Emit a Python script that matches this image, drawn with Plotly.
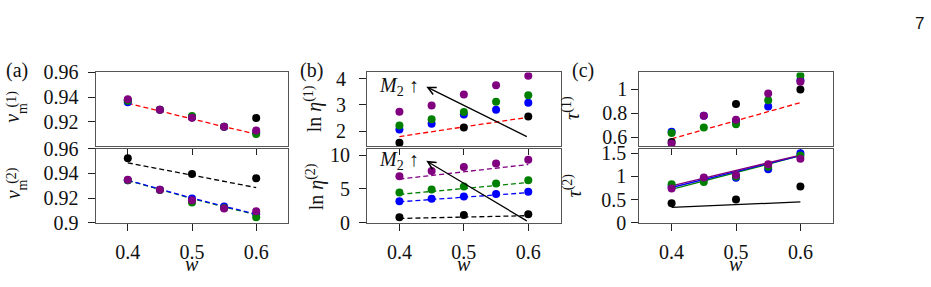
import plotly.graph_objects as go

W, H = 931, 287

# ---------------- data ----------------
w5 = [0.4, 0.45, 0.5, 0.55, 0.6]
w3 = [0.4, 0.5, 0.6]
w2 = [0.4, 0.6]

# (a) top: v_m^(1)
vm1_black = [0.9375, 0.9235, 0.923]
vm1_blue = [0.9358, 0.9298, 0.9238, 0.9160, 0.9115]
vm1_green = [0.9370, 0.9298, 0.9246, 0.9160, 0.9100]
vm1_purple = [0.9383, 0.9298, 0.9233, 0.9160, 0.9130]
vm1_fit_red = [0.935, 0.9285, 0.922, 0.916, 0.910]

# (a) bottom: v_m^(2)
vm2_black = [0.9524, 0.9396, 0.936]
vm2_blue = [0.9345, 0.9267, 0.9197, 0.9131, 0.9070]
vm2_green = [0.9345, 0.9265, 0.9164, 0.9120, 0.9045]
vm2_purple = [0.9348, 0.9267, 0.9182, 0.9116, 0.9093]
vm2_fit_black = [0.9486, 0.9285]
vm2_fit_green = [0.9343, 0.9268, 0.9196, 0.9128, 0.9065]
vm2_fit_blue = [0.9345, 0.9272, 0.9200, 0.9133, 0.9070]

# (b) top: ln eta^(1)
eta1_black = [1.55, 2.14, 2.56]
eta1_blue = [2.06, 2.28, 2.64, 2.82, 3.09]
eta1_green = [2.21, 2.45, 2.73, 3.12, 3.37]
eta1_purple = [2.74, 2.98, 3.40, 3.76, 4.12]
eta1_fit_red = [1.79, 2.53]

# (b) bottom: ln eta^(2)
eta2_black = [0.82, 1.13, 1.27]
eta2_blue = [3.18, 3.55, 3.86, 4.23, 4.58]
eta2_green = [4.45, 4.91, 5.36, 5.81, 6.27]
eta2_purple = [6.86, 7.64, 8.23, 8.77, 9.32]
eta2_fit_black = [0.63, 1.04]
eta2_fit_blue = [3.09, 4.45]
eta2_fit_green = [4.18, 5.95]
eta2_fit_purple = [6.45, 8.6]

# (c) top: tau^(1)
tau1_black = [0.56, 0.878, 1.0]
tau1_blue = [0.646, 0.78, 0.735, 0.858, 1.078]
tau1_green = [0.636, 0.682, 0.708, 0.909, 1.116]
tau1_purple = [0.548, 0.78, 0.747, 0.966, 1.065]
tau1_fit_red = [0.587, 0.89]

# (c) bottom: tau^(2)
tau2_black = [0.42, 0.50, 0.78]
tau2_blue = [0.78, 0.95, 0.97, 1.155, 1.50]
tau2_green = [0.83, 0.877, 1.00, 1.21, 1.45]
tau2_purple = [0.74, 0.976, 1.03, 1.26, 1.38]
tau2_fit_black = [0.33, 0.45]
tau2_fit_green = [0.717, 1.446]
tau2_fit_blue = [0.76, 1.45]
tau2_fit_purple = [0.797, 1.46]

# arrows "M2 up" (head, tail) in data coordinates of panel (b)
arrow1 = dict(head=(0.4417, 3.70), tail=(0.6, 1.76), label=(0.40, 3.71))
arrow2 = dict(head=(0.4417, 9.14), tail=(0.6, 0.14), label=(0.40, 9.18))

x_ticks = [0.4, 0.5, 0.6]
x_ticktext = ["0.4", "0.5", "0.6"]

# ---------------- styling ----------------
BLACK, BLUE, GREEN, PURPLE, RED = "#000000", "#0000ff", "#008000", "#800080", "#ff0000"
FONT = "Liberation Serif"
TICKSIZE = 20
MS = 8


def px(x):
    return x / W


def py(y):
    return 1 - y / H


fig = go.Figure()


def add_pts(xs, ys, color, ax):
    fig.add_trace(go.Scatter(x=xs, y=ys, mode="markers", xaxis="x" + ax, yaxis="y" + ax,
                             marker=dict(size=MS, color=color, line=dict(width=0)),
                             showlegend=False, hoverinfo="skip"))


def add_line(xs, ys, color, ax, dash="5px,3px", width=1.3):
    fig.add_trace(go.Scatter(x=xs, y=ys, mode="lines", xaxis="x" + ax, yaxis="y" + ax,
                             line=dict(color=color, width=width, dash=dash),
                             showlegend=False, hoverinfo="skip"))


# axes ids: 1,2,3 = top (a,b,c); 4,5,6 = bottom (a,b,c)
A_T, B_T, C_T, A_B, B_B, C_B = "", "2", "3", "4", "5", "6"

# (a) top
add_line(w5, vm1_fit_red, RED, A_T)
add_pts(w3, vm1_black, BLACK, A_T)
add_pts(w5, vm1_blue, BLUE, A_T)
add_pts(w5, vm1_green, GREEN, A_T)
add_pts(w5, vm1_purple, PURPLE, A_T)
# (a) bottom
add_line(w2, vm2_fit_black, BLACK, A_B)
add_line(w5, vm2_fit_green, GREEN, A_B)
add_line(w5, vm2_fit_blue, BLUE, A_B)
add_pts(w3, vm2_black, BLACK, A_B)
add_pts(w5, vm2_blue, BLUE, A_B)
add_pts(w5, vm2_green, GREEN, A_B)
add_pts(w5, vm2_purple, PURPLE, A_B)
# (b) top
add_line(w2, eta1_fit_red, RED, B_T)
add_pts(w3, eta1_black, BLACK, B_T)
add_pts(w5, eta1_blue, BLUE, B_T)
add_pts(w5, eta1_green, GREEN, B_T)
add_pts(w5, eta1_purple, PURPLE, B_T)
# (b) bottom
add_line(w2, eta2_fit_black, BLACK, B_B)
add_line(w2, eta2_fit_blue, BLUE, B_B)
add_line(w2, eta2_fit_green, GREEN, B_B)
add_line(w2, eta2_fit_purple, PURPLE, B_B)
add_pts(w3, eta2_black, BLACK, B_B)
add_pts(w5, eta2_blue, BLUE, B_B)
add_pts(w5, eta2_green, GREEN, B_B)
add_pts(w5, eta2_purple, PURPLE, B_B)
# (c) top
add_line(w2, tau1_fit_red, RED, C_T)
add_pts(w3, tau1_black, BLACK, C_T)
add_pts(w5, tau1_blue, BLUE, C_T)
add_pts(w5, tau1_green, GREEN, C_T)
add_pts(w5, tau1_purple, PURPLE, C_T)
# (c) bottom
add_line(w2, tau2_fit_black, BLACK, C_B, dash="solid")
add_line(w2, tau2_fit_green, GREEN, C_B, dash="solid")
add_line(w2, tau2_fit_blue, BLUE, C_B, dash="solid")
add_line(w2, tau2_fit_purple, PURPLE, C_B, dash="solid")
add_pts(w3, tau2_black, BLACK, C_B)
add_pts(w5, tau2_blue, BLUE, C_B)
add_pts(w5, tau2_green, GREEN, C_B)
add_pts(w5, tau2_purple, PURPLE, C_B)

# ---------------- layout ----------------
XDOM = {"a": (95.7, 288.3), "b": (367.2, 560.5), "c": (639.4, 832.6)}
YDOM_TOP = (66.5, 146.7)
YDOM_BOT = (149.2, 229.3)

common_axis = dict(showline=True, mirror=True, linecolor="#555555", linewidth=1.4,
                   ticks="outside", ticklen=7, tickwidth=1.2, tickcolor="#222222",
                   showgrid=False, zeroline=False,
                   tickfont=dict(family=FONT, size=TICKSIZE, color="#111111"))


def xaxis(panel, bottom, anchor):
    d = XDOM[panel]
    return dict(common_axis, domain=[px(d[0]), px(d[1])], range=[0.35, 0.65],
                tickvals=x_ticks, ticktext=x_ticktext, anchor=anchor,
                showticklabels=bottom, ticklabelstandoff=4)


def yaxis(top, rng, tv, tt, anchor, standoff):
    yd = YDOM_TOP if top else YDOM_BOT
    return dict(common_axis, domain=[py(yd[1]), py(yd[0])], range=rng,
                tickvals=tv, ticktext=tt, anchor=anchor, ticklabelstandoff=standoff)


fig.update_layout(
    width=W, height=H, autosize=False,
    margin=dict(l=0, r=0, t=0, b=0, pad=0),
    paper_bgcolor="white", plot_bgcolor="white",
    showlegend=False,
    font=dict(family=FONT),
    xaxis=xaxis("a", False, "y"),
    xaxis2=xaxis("b", False, "y2"),
    xaxis3=xaxis("c", False, "y3"),
    xaxis4=xaxis("a", True, "y4"),
    xaxis5=xaxis("b", True, "y5"),
    xaxis6=xaxis("c", True, "y6"),
    yaxis=yaxis(True, [0.90, 0.96], [0.92, 0.94, 0.96], ["0.92", "0.94", "0.96"], "x", 5),
    yaxis2=yaxis(True, [1.41, 4.25], [2, 3, 4], ["2", "3", "4"], "x2", 9),
    yaxis3=yaxis(True, [0.523, 1.143], [0.6, 0.8, 1.0], ["0.6", "0.8", "1"], "x3", 0),
    yaxis4=yaxis(False, [0.90, 0.96], [0.90, 0.92, 0.94, 0.96], ["0.9", "0.92", "0.94", "0.96"], "x4", 5),
    yaxis5=yaxis(False, [0.0, 10.93], [0, 5, 10], ["0", "5", "10"], "x5", 5),
    yaxis6=yaxis(False, [0.0, 1.596], [0, 0.5, 1.0, 1.5], ["0", "0.5", "1", "1.5"], "x6", 1),
)

ann = []


def text(xp, yp, t, size=TICKSIZE, angle=0, family=FONT, color="#111111"):
    ann.append(dict(x=px(xp), y=py(yp), xref="paper", yref="paper", text=t, showarrow=False,
                    textangle=angle, xanchor="center", yanchor="middle",
                    font=dict(family=family, size=size, color=color)))


# panel labels
text(17, 64, "(a)")
text(311, 64, "(b)")
text(583, 64, "(c)")
# page number
text(919, 13, "7", size=17, family="Liberation Sans")

# x titles
for xc in (191.9, 463.8, 736.0):
    text(xc, 274, "<i>w</i>")

# y titles (a): v_m^(1), v_m^(2)
for base, sup in ((106.6, "(1)"), (189.3, "(2)")):
    text(12.5, base + 9.5, "<i>v</i>", angle=-90)
    text(22.7, base - 1.2, "m", size=14, angle=-90)
    text(11.7, base - 11.5, sup, size=14, angle=-90)

# (b) titles
text(313, 106.5, "ln <i>η</i><sup>(1)</sup>", angle=-90)
text(315, 191, "ln <i>η</i><sup>(2)</sup>", angle=-90)
# (c) titles
text(571, 105, "<i>τ</i><sup>(1)</sup>", angle=-90)
text(572, 189, "<i>τ</i><sup>(2)</sup>", angle=-90)

# arrows and M2 labels
for a, ax_id in ((arrow1, "2"), (arrow2, "5")):
    ann.append(dict(x=a["head"][0], y=a["head"][1], ax=a["tail"][0], ay=a["tail"][1],
                    xref="x" + ax_id, yref="y" + ax_id, axref="x" + ax_id, ayref="y" + ax_id,
                    text="", showarrow=True, arrowhead=5, arrowsize=1.2, arrowwidth=1.3,
                    arrowcolor="#000000", standoff=0, startstandoff=0))
    ann.append(dict(x=a["label"][0], y=a["label"][1], xref="x" + ax_id, yref="y" + ax_id,
                    text="<i>M</i><sub>2</sub> ↑", showarrow=False,
                    xanchor="center", yanchor="middle",
                    font=dict(family=FONT, size=TICKSIZE, color="#111111")))

fig.update_layout(annotations=ann)

fig.write_html("out.html")
